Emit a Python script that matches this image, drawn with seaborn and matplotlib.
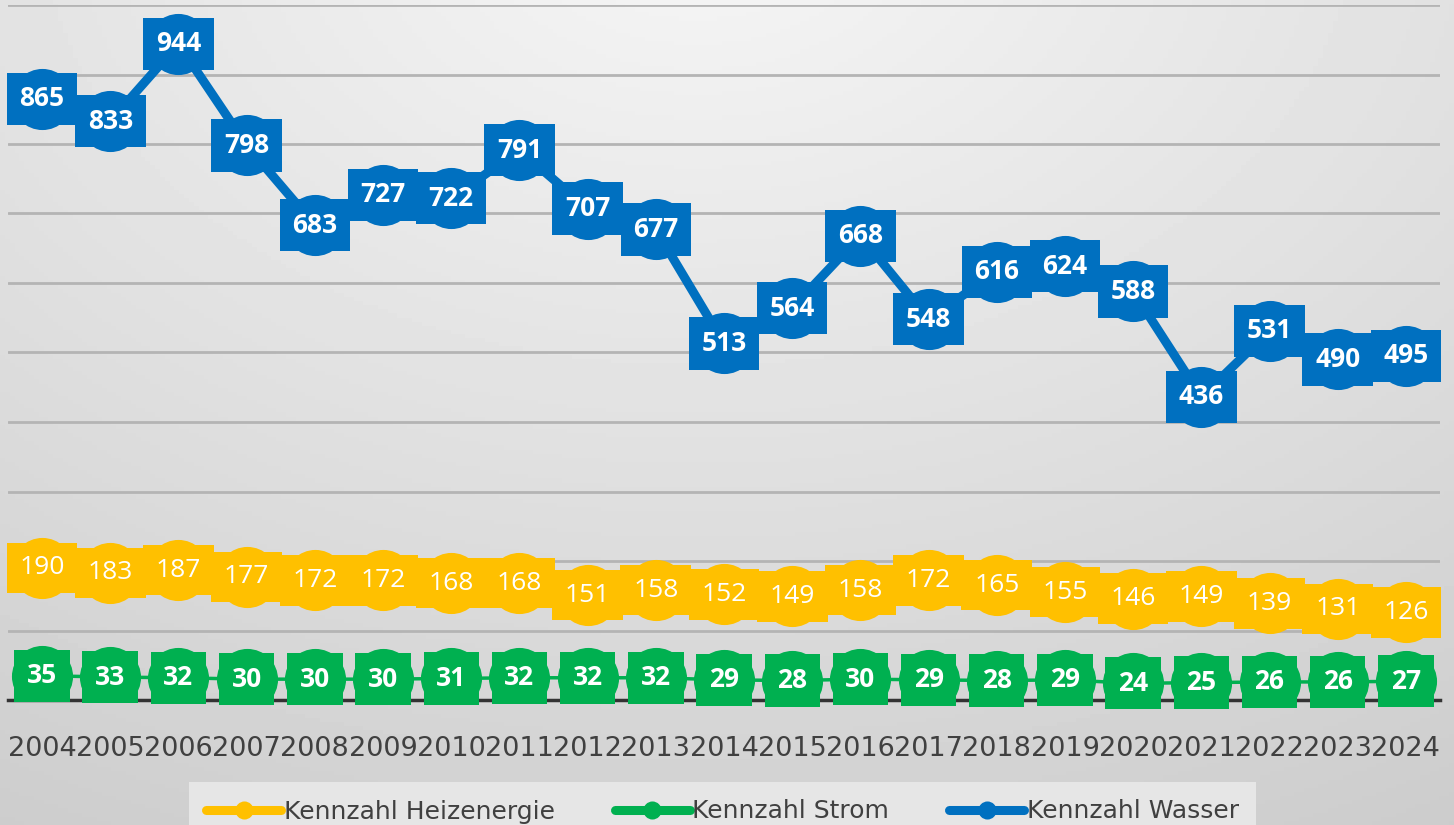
"""Kennzahlen Heizenergie / Strom / Wasser 2004-2024 — line chart with boxed data labels."""

import matplotlib
matplotlib.use("Agg")
import matplotlib.pyplot as plt
import numpy as np
import pandas as pd
import seaborn as sns
from matplotlib.lines import Line2D

years = [str(y) for y in range(2004, 2025)]
heizenergie = [190, 183, 187, 177, 172, 172, 168, 168, 151, 158, 152, 149, 158, 172, 165, 155, 146, 149, 139, 131, 126]
strom = [35, 33, 32, 30, 30, 30, 31, 32, 32, 32, 29, 28, 30, 29, 28, 29, 24, 25, 26, 26, 27]
wasser = [865, 833, 944, 798, 683, 727, 722, 791, 707, 677, 513, 564, 668, 548, 616, 624, 588, 436, 531, 490, 495]

series_names = ["Kennzahl Heizenergie", "Kennzahl Strom", "Kennzahl Wasser"]
series_values = [heizenergie, strom, wasser]
colors = {"Kennzahl Heizenergie": "#FFC000", "Kennzahl Strom": "#00B050", "Kennzahl Wasser": "#0070C0"}

# per-series look (Excel style: thick lines, large markers, labels centred)
line_widths = {"Kennzahl Heizenergie": 7, "Kennzahl Strom": 2.5, "Kennzahl Wasser": 6.5}
label_weight = {"Kennzahl Heizenergie": "normal", "Kennzahl Strom": "bold", "Kennzahl Wasser": "bold"}

df = pd.DataFrame({
    "idx": np.tile(np.arange(len(years)), len(series_names)),
    "value": np.concatenate(series_values),
    "series": np.repeat(series_names, len(years)),
})

sns.set_theme(style="white")
plt.rcParams["font.family"] = ["DejaVu Sans"]

fig = plt.figure(figsize=(14.54, 8.25), dpi=100)

# gradient background
bg = fig.add_axes([0, 0, 1, 1], zorder=-10)
gx, gy = np.meshgrid(np.linspace(0, 1, 300), np.linspace(0, 1, 200))
r = np.sqrt(((gx - 0.48) * 1.2) ** 2 + (gy + 0.1) ** 2)
shade = np.clip(0.965 - 0.13 * r, 0, 1)
bg.imshow(shade, cmap="gray", vmin=0, vmax=1, aspect="auto", extent=[0, 1, 1, 0])
bg.set_axis_off()

ax = fig.add_axes([8 / 1454, 1 - 700 / 825, 1432 / 1454, 695 / 825])
ax.patch.set_alpha(0)

for name in series_names:
    sub = df[df["series"] == name]
    sns.lineplot(
        data=sub, x="idx", y="value", ax=ax, color=colors[name],
        linewidth=line_widths[name], marker="o", markersize=44,
        markeredgewidth=0, zorder=3, legend=False,
    )
    for x, v in zip(sub["idx"], sub["value"]):
        ax.text(
            x, v, f"{v}", ha="center", va="center", color="white",
            fontsize=19, fontweight=label_weight[name], family="Open Sans", zorder=5,
            bbox=dict(boxstyle="square,pad=0.48", facecolor=colors[name], edgecolor="none"),
        )

ax.set_xlim(-0.5, len(years) - 0.5)
ax.set_ylim(0, 1000)
ax.set_yticks(range(100, 1001, 100))
ax.set_yticklabels([])
ax.yaxis.grid(True, color="#b4b4b4", linewidth=2)
ax.set_axisbelow(True)
ax.set_xticks(range(len(years)))
ax.set_xticklabels(years, fontsize=19.5, color="#404040")
ax.tick_params(axis="both", length=0)
ax.tick_params(axis="x", pad=26)
ax.set_xlabel("")
ax.set_ylabel("")
for side in ["top", "left", "right"]:
    ax.spines[side].set_visible(False)
ax.spines["bottom"].set_color("#333333")
ax.spines["bottom"].set_linewidth(2.5)
ax.spines["bottom"].set_zorder(2)

handles = [
    Line2D([0], [0], color=colors[n], linewidth=6.5, marker="o", markersize=13, markeredgewidth=0)
    for n in series_names
]
leg = fig.legend(
    handles, series_names, loc="upper center", bbox_to_anchor=(0.497, 1 - 782 / 825),
    ncol=3, fontsize=18, frameon=True, fancybox=False, framealpha=1,
    facecolor="#e6e6e6", edgecolor="none", handlelength=3.0, handletextpad=0.1,
    columnspacing=2.4, borderpad=0.7, borderaxespad=0,
)
for t in leg.get_texts():
    t.set_color("#404040")

fig.savefig("out.png", dpi=100)
plt.close(fig)
